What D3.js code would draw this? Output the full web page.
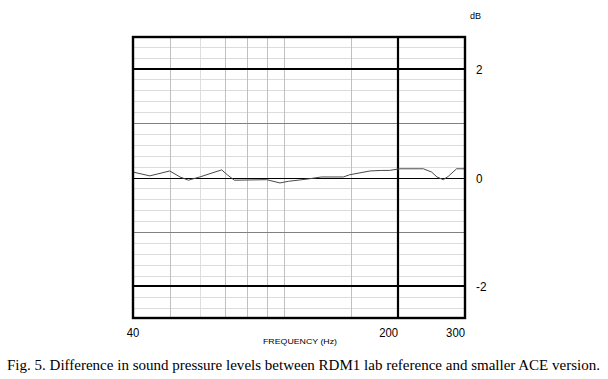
<!DOCTYPE html>
<html><head><meta charset="utf-8">
<script src="https://cdn.jsdelivr.net/npm/d3@7"></script>
<style>
html,body{margin:0;padding:0;background:#fff;}
svg{display:block;}
</style></head>
<body>
<script>
// ---- data ----
const freqs = [40, 44.3, 50, 53.2, 56, 57.9, 60, 68.5, 70.9, 74, 90, 97.6, 102.7, 114.8, 125.7, 143.4, 149, 168.6, 181, 190, 202, 233, 245, 253, 263, 271, 285, 300];
const diffDb = [0.10, 0.03, 0.12, 0.01, -0.05, -0.02, 0.01, 0.14, 0.05, -0.05, -0.04, -0.10, -0.07, -0.03, 0.01, 0.01, 0.05, 0.12, 0.13, 0.13, 0.16, 0.16, 0.10, 0.01, -0.04, 0.02, 0.16, 0.16];
const xTickLabels = [40, 200, 300];
const yTickLabels = [2, 0, -2];
const xGrid = [50, 60, 70, 80, 90, 100, 150];
const yMinor = d3.range(-24, 25, 2).map(v => v / 10);
const xLabel = "FREQUENCY (Hz)";
const yUnit = "dB";
const caption = "Fig. 5. Difference in sound pressure levels between RDM1 lab reference and smaller ACE version.";

const W = 608, H = 379;
const L = 133, R = 465, T = 37, B = 318;
const svg = d3.select("body").append("svg").attr("width", W).attr("height", H);

const x = d3.scaleLog().domain([40, 300]).range([L, R]);
const y = d3.scaleLinear().domain([-2.58, 2.58]).range([B, T]);

const g = svg.append("g");
// minor horizontal grid
g.selectAll(".hm").data(yMinor.filter(v => Math.abs(v) > 1e-6 && Math.abs(Math.abs(v) - 1) > 1e-6 && Math.abs(Math.abs(v) - 2) > 1e-6))
  .join("line").attr("x1", L).attr("x2", R)
  .attr("y1", d => Math.round(y(d)) + 0.5).attr("y2", d => Math.round(y(d)) + 0.5)
  .attr("stroke", "#dcdcdc").attr("stroke-width", 1);
// vertical grid
g.selectAll(".vg").data(xGrid).join("line")
  .attr("x1", d => Math.round(x(d)) + 0.5).attr("x2", d => Math.round(x(d)) + 0.5)
  .attr("y1", T).attr("y2", B)
  .attr("stroke", d => d === 60 ? "#dedede" : "#c0c0c0").attr("stroke-width", 1);
// +-1 lines
g.selectAll(".h1").data([1, -1]).join("line").attr("x1", L).attr("x2", R)
  .attr("y1", d => Math.round(y(d)) + 0.5).attr("y2", d => Math.round(y(d)) + 0.5)
  .attr("stroke", "#808080").attr("stroke-width", 1);
// 0 line
g.append("line").attr("x1", L).attr("x2", R)
  .attr("y1", Math.round(y(0)) + 0.5).attr("y2", Math.round(y(0)) + 0.5)
  .attr("stroke", "#000").attr("stroke-width", 1.2);
// +-2 lines
g.selectAll(".h2").data([2, -2]).join("line").attr("x1", L).attr("x2", R)
  .attr("y1", d => Math.round(y(d))).attr("y2", d => Math.round(y(d)))
  .attr("stroke", "#000").attr("stroke-width", 2);
// 200 Hz line
g.append("line").attr("x1", Math.round(x(200))).attr("x2", Math.round(x(200)))
  .attr("y1", T).attr("y2", B).attr("stroke", "#000").attr("stroke-width", 2.2);

// data line
const line = d3.line().x((d, i) => x(freqs[i])).y(d => y(d));
g.append("path").datum(diffDb).attr("d", line)
  .attr("fill", "none").attr("stroke", "#4a4a4a").attr("stroke-width", 1);

// border
g.append("rect").attr("x", L).attr("y", T).attr("width", R - L).attr("height", B - T)
  .attr("fill", "none").attr("stroke", "#000").attr("stroke-width", 2.4);

const numFont = "'Liberation Sans', Arial, sans-serif";
// x tick labels
svg.selectAll(".xt").data(xTickLabels).join("text")
  .attr("x", d => x(d)).attr("y", 337)
  .attr("text-anchor", d => d === 40 ? "middle" : "end")
  .attr("font-family", numFont).attr("font-size", 13).attr("fill", "#000")
  .attr("textLength", d => String(d).length * 6.3).attr("lengthAdjust", "spacingAndGlyphs")
  .text(d => d);
// y tick labels (right)
svg.selectAll(".yt").data(yTickLabels).join("text")
  .attr("x", 476).attr("y", d => y(d) + 5)
  .attr("font-family", numFont).attr("font-size", 13).attr("fill", "#000")
  .attr("textLength", d => d < 0 ? 10.5 : 6.5).attr("lengthAdjust", "spacingAndGlyphs")
  .text(d => d);
// unit
svg.append("text").attr("x", 470).attr("y", 19)
  .attr("font-family", numFont).attr("font-size", 9).text(yUnit);
// x label
svg.append("text").attr("x", 263).attr("y", 344)
  .attr("font-family", numFont).attr("font-size", 8)
  .attr("textLength", 74).attr("lengthAdjust", "spacingAndGlyphs").text(xLabel);
// caption
svg.append("text").attr("x", 7).attr("y", 370)
  .attr("font-family", "'Liberation Serif', 'Times New Roman', serif").attr("font-size", 14)
  .attr("textLength", 593).attr("lengthAdjust", "spacingAndGlyphs").text(caption);
</script>
</body></html>
